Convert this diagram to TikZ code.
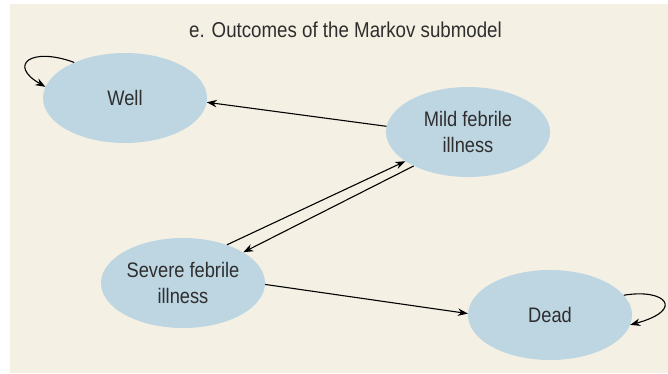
\documentclass[tikz,border=0pt]{standalone}
\usepackage{fontspec}
\setmainfont[FakeStretch=0.87]{Liberation Sans}
\usepackage{tikz}
\usetikzlibrary{shapes.geometric}
\usetikzlibrary{arrows.meta}
\definecolor{panelbg}{HTML}{F4F1E4}
\definecolor{statefill}{HTML}{BDD6E2}
\definecolor{inktext}{HTML}{2E2E2E}

\begin{document}
\begin{tikzpicture}[x=1pt, y=-1pt,
    state/.style={ellipse, fill=statefill, minimum width=164pt, minimum height=90pt, inner sep=0pt,
      align=center, text=inktext, font=\fontsize{21}{26}\selectfont},
    trans/.style={line width=1.1pt, -{Stealth[length=10pt, width=7.5pt]}}]
    \useasboundingbox (0,0) rectangle (668,373);
    \fill[panelbg] (10,4) rectangle (668,373);
    \node[text=inktext, font=\fontsize{21.5}{24}\selectfont, anchor=base] (title) at (345.5,37) {e. Outcomes of the Markov submodel};

    \node[state] (well)   at (125,98)  {Well};
    \node[state] (mild)   at (468,132) {Mild febrile\\illness};
    \node[state] (severe) at (183,283) {Severe febrile\\illness};
    \node[state] (dead)   at (550,315) {Dead};

    \draw[trans] (mild.176) -- (well.357);
    \draw[trans] (severe.41) -- (mild.205);
    \draw[trans] (mild.212) -- (severe.27);
    \draw[trans] (severe.359) -- (dead.179);
    \draw[trans] (well.145) .. controls +(-43,-16) and +(-38,-22) .. (well.172);
    \draw[trans] (dead.15) .. controls +(42,-7) and +(55,-15) .. (dead.353);
  \end{tikzpicture}
\end{document}
